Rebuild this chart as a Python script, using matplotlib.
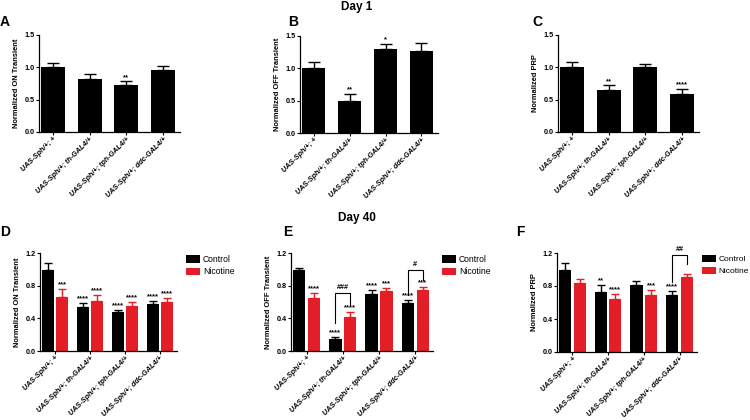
import matplotlib
matplotlib.use("Agg")
import matplotlib.pyplot as plt
import numpy as np

plt.rcParams['font.family'] = ['Liberation Sans', 'DejaVu Sans']

genotypes = ["UAS-Sph/+; +", "UAS-Sph/+; th-GAL4/+", "UAS-Sph/+; tph-GAL4/+", "UAS-Sph/+; ddc-GAL4/+"]

# Day 1
on_day1 = [1.00, 0.815, 0.727, 0.963]
on_day1_err = [0.07, 0.08, 0.055, 0.06]
on_day1_sig = ["", "", "**", ""]

off_day1 = [1.00, 0.50, 1.306, 1.265]
off_day1_err = [0.10, 0.10, 0.075, 0.125]
off_day1_sig = ["", "**", "*", ""]

prp_day1 = [1.00, 0.65, 1.01, 0.59]
prp_day1_err = [0.075, 0.07, 0.045, 0.07]
prp_day1_sig = ["", "**", "", "****"]

# Day 40
on_ctrl = [0.995, 0.534, 0.473, 0.580]
on_ctrl_err = [0.082, 0.056, 0.032, 0.028]
on_ctrl_sig = ["", "****", "****", "****"]
on_nic = [0.666, 0.608, 0.547, 0.604]
on_nic_err = [0.09, 0.074, 0.053, 0.046]
on_nic_sig = ["***", "****", "****", "****"]

off_ctrl = [0.995, 0.148, 0.703, 0.588]
off_ctrl_err = [0.025, 0.02, 0.045, 0.032]
off_ctrl_sig = ["", "****", "****", "****"]
off_nic = [0.649, 0.411, 0.736, 0.748]
off_nic_err = [0.058, 0.062, 0.037, 0.041]
off_nic_sig = ["****", "****", "***", "***"]
# (group, top, left leg end, right leg end, label)
off_brackets = [(1, 0.71, 0.34, 0.565, "###"), (3, 0.99, 0.685, 0.87, "#")]

prp_ctrl = [0.997, 0.728, 0.81, 0.688]
prp_ctrl_err = [0.083, 0.082, 0.056, 0.052]
prp_ctrl_sig = ["", "**", "", "****"]
prp_nic = [0.842, 0.643, 0.696, 0.915]
prp_nic_err = [0.048, 0.065, 0.053, 0.029]
prp_nic_sig = ["", "****", "***", ""]
prp_brackets = [(3, 1.176, 0.85, 1.065, "##")]

RED = "#E31E26"
W, H = 750, 420
fig = plt.figure(figsize=(7.5, 4.2), dpi=100)


def axrect(l, r, t, b):
    return [l / W, 1 - b / H, (r - l) / W, (b - t) / H]


def style(ax, ylabel, ymax, yticks):
    for s in ["top", "right"]:
        ax.spines[s].set_visible(False)
    for s in ["left", "bottom"]:
        ax.spines[s].set_linewidth(0.9)
    ax.set_ylim(0, ymax)
    ax.set_yticks(yticks)
    ax.set_yticklabels([f"{v:.1f}" for v in yticks], fontsize=5.2, fontweight='bold')
    ax.tick_params(axis='both', direction='out', length=2.2, width=0.8, pad=1)
    ax.set_xticks(range(len(genotypes)))
    ax.set_xticklabels(genotypes, rotation=45, ha='right', rotation_mode='anchor',
                       fontsize=5.2, fontweight='bold', fontstyle='italic')
    ax.tick_params(axis='x', pad=0.5)
    ax.set_ylabel(ylabel, fontsize=5.4, fontweight='bold', labelpad=3)


def single(rect, vals, errs, sig, ylabel):
    ax = fig.add_axes(rect)
    x = np.arange(len(vals))
    ax.bar(x, vals, width=0.65, color='black', zorder=2)
    ax.errorbar(x, vals, yerr=[np.zeros(len(vals)), errs], fmt='none', ecolor='black',
                elinewidth=1.0, capsize=4.5, capthick=1.0, zorder=1)
    for xi, v, e, s in zip(x, vals, errs, sig):
        if s:
            ax.text(xi, v + e + 0.01, s, ha='center', va='bottom', fontsize=5.5, fontweight='bold')
    ax.set_xlim(-0.38, 3.46)
    style(ax, ylabel, 1.5, [0.0, 0.5, 1.0, 1.5])
    return ax


def grouped(rect, c, ce, cs, n, ne, ns, ylabel, brackets, legpos, legfs=6.2):
    ax = fig.add_axes(rect)
    x = np.arange(len(c))
    off, bw = 0.205, 0.34
    ax.bar(x - off, c, width=bw, color='black', zorder=2, label='Control')
    ax.bar(x + off, n, width=bw, color=RED, zorder=2, label='Nicotine')
    ax.errorbar(x - off, c, yerr=[np.zeros(len(c)), ce], fmt='none', ecolor='black',
                elinewidth=1.0, capsize=2.8, capthick=1.0, zorder=1)
    ax.errorbar(x + off, n, yerr=[np.zeros(len(n)), ne], fmt='none', ecolor=RED,
                elinewidth=1.0, capsize=2.8, capthick=1.0, zorder=1)
    for xs, vals, errs, sig in [(x - off, c, ce, cs), (x + off, n, ne, ns)]:
        for xi, v, e, s in zip(xs, vals, errs, sig):
            if s:
                ax.text(xi, v + e + 0.008, s, ha='center', va='bottom', fontsize=5.5, fontweight='bold')
    for gi, top, yl, yr, lab in brackets:
        ax.plot([gi - off, gi - off, gi + off, gi + off], [yl, top, top, yr],
                color='black', lw=0.8, zorder=3)
        ax.text(gi, top + 0.03, lab, ha='center', va='bottom', fontsize=5.2, fontweight='bold')
    ax.set_xlim(-0.43, 3.49)
    style(ax, ylabel, 1.2, [0.0, 0.4, 0.8, 1.2])
    ax.legend(loc='upper left', bbox_to_anchor=(legpos[0] / W, 1 - legpos[1] / H),
              bbox_transform=fig.transFigure, frameon=False, fontsize=legfs,
              handlelength=1.65, handleheight=0.9, handletextpad=0.3,
              borderpad=0, borderaxespad=0, labelspacing=0.4)
    return ax


single(axrect(39, 180, 35, 132), on_day1, on_day1_err, on_day1_sig, "Normalized ON Transient")
single(axrect(300, 438, 36, 133), off_day1, off_day1_err, off_day1_sig, "Normalized OFF Transient")
single(axrect(558, 699, 35, 132), prp_day1, prp_day1_err, prp_day1_sig, "Normalized PRP")

grouped(axrect(40, 177, 253, 351), on_ctrl, on_ctrl_err, on_ctrl_sig, on_nic, on_nic_err, on_nic_sig,
        "Normalized ON Transient", [], (186, 255))
grouped(axrect(291, 433, 253, 351), off_ctrl, off_ctrl_err, off_ctrl_sig, off_nic, off_nic_err, off_nic_sig,
        "Normalized OFF Transient", off_brackets, (442, 255))
grouped(axrect(557, 697, 253, 352), prp_ctrl, prp_ctrl_err, prp_ctrl_sig, prp_nic, prp_nic_err, prp_nic_sig,
        "Normalized PRP", prp_brackets, (702, 255), legfs=6.0)

fig.text(357 / W, 1 - 7 / H, "Day 1", ha='center', va='center', fontsize=8.5, fontweight='bold')
fig.text(357 / W, 1 - 218 / H, "Day 40", ha='center', va='center', fontsize=8.5, fontweight='bold')
for lab, px, py in [("A", 5, 22), ("B", 293, 22), ("C", 537, 22), ("D", 5, 232), ("E", 288, 232), ("F", 520, 232)]:
    fig.text(px / W, 1 - py / H, lab, ha='center', va='center', fontsize=10, fontweight='bold')

fig.savefig("out.png", dpi=100)
